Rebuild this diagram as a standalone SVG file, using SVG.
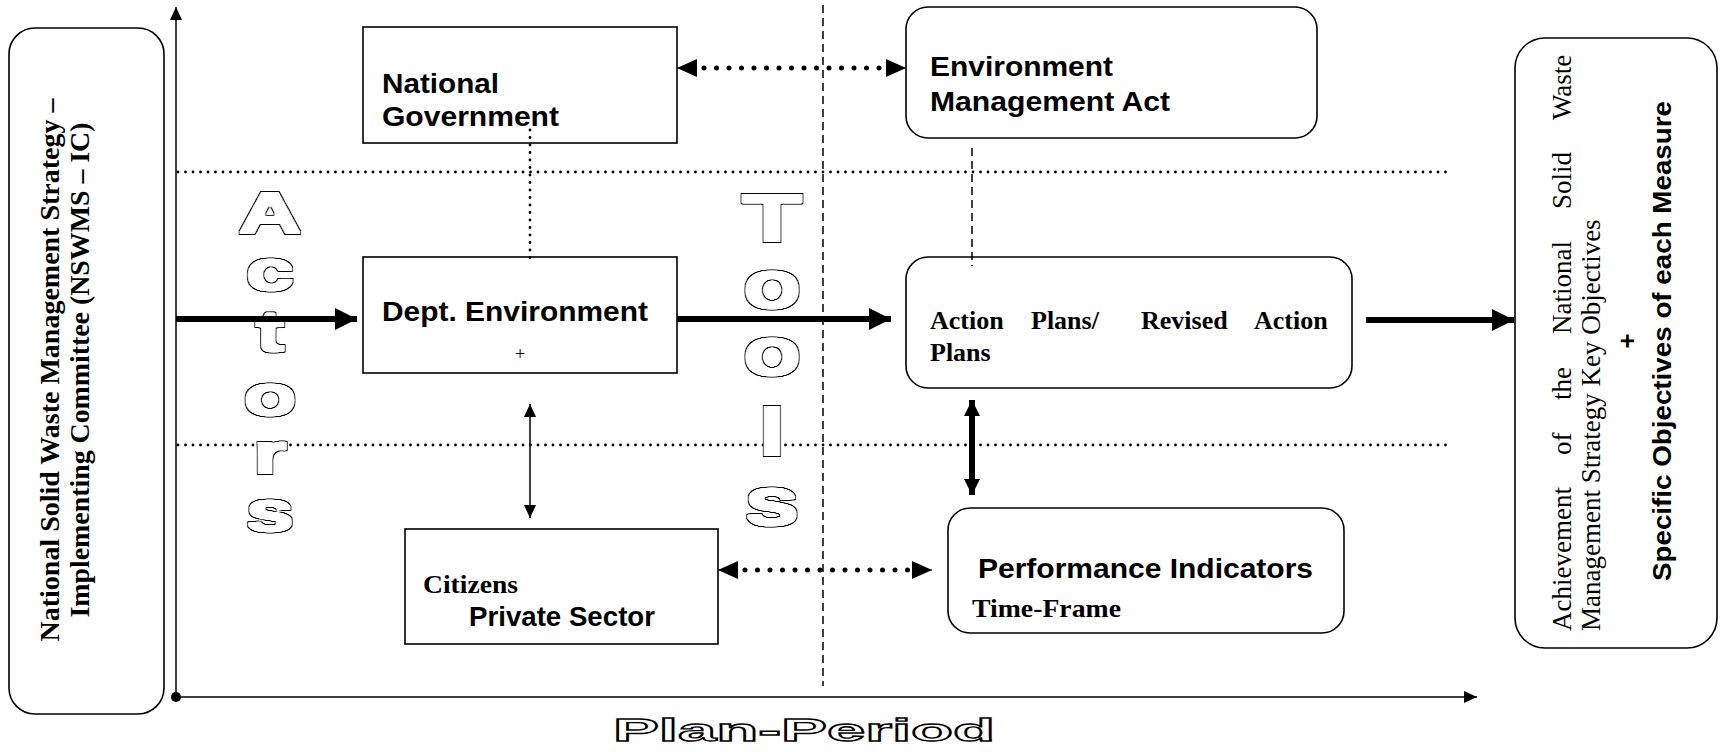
<svg xmlns="http://www.w3.org/2000/svg" width="1720" height="752" viewBox="0 0 1720 752">
<style>
.box{fill:#fff;stroke:#000;stroke-width:1.6}
.ar{font-family:"Liberation Sans",Arial,sans-serif;font-weight:bold;fill:#000}
.tm{font-family:"Liberation Serif","Times New Roman",serif;fill:#000}
.tb{font-family:"Liberation Serif","Times New Roman",serif;font-weight:bold;fill:#000}
.out{font-family:"Liberation Sans",Arial,sans-serif;font-weight:bold;fill:#000;text-anchor:middle;filter:url(#fat)}
.outp{font-family:"Liberation Sans",Arial,sans-serif;font-weight:bold;fill:#fff;stroke:#000;stroke-width:1.3;text-anchor:middle}
.thick{stroke:#000;stroke-width:6;fill:none}
.dots{stroke:#000;stroke-width:5;stroke-linecap:round;stroke-dasharray:0 12.5;fill:none}
.sdots{stroke:#000;stroke-width:2.8;stroke-linecap:round;stroke-dasharray:0 7.5;fill:none}
.dash{stroke:#000;stroke-width:1.5;stroke-dasharray:8 5;fill:none}
.thin{stroke:#000;stroke-width:1.5;fill:none}
</style>
<defs>
<filter id="fat" x="-30%" y="-30%" width="160%" height="160%">
<feMorphology in="SourceAlpha" operator="dilate" radius="1.5 2.4" result="d0"/>
<feGaussianBlur in="d0" stdDeviation="0.6" result="d1"/>
<feComponentTransfer in="d1" result="d"><feFuncA type="linear" slope="2.5" intercept="-0.6"/></feComponentTransfer>
<feMorphology in="d" operator="erode" radius="0.65 1" result="e"/>
<feFlood flood-color="#000" result="blk"/>
<feComposite in="blk" in2="d" operator="in" result="ring"/>
<feFlood flood-color="#fff" result="wht"/>
<feComposite in="wht" in2="e" operator="in" result="inner"/>
<feMerge><feMergeNode in="ring"/><feMergeNode in="inner"/></feMerge>
</filter>
<marker id="bigHead" markerUnits="userSpaceOnUse" markerWidth="24" markerHeight="24" refX="22" refY="12" orient="auto-start-reverse" viewBox="0 0 24 24"><path d="M0,1 L22,12 L0,23 Z" fill="#000"/></marker>
<marker id="dotHead" markerUnits="userSpaceOnUse" markerWidth="22" markerHeight="22" refX="20" refY="11" orient="auto-start-reverse" viewBox="0 0 22 22"><path d="M0,2 L20,11 L0,20 Z" fill="#000"/></marker>
<marker id="midHead" markerUnits="userSpaceOnUse" markerWidth="18" markerHeight="18" refX="16" refY="9" orient="auto-start-reverse" viewBox="0 0 18 18"><path d="M0,1 L16,9 L0,17 Z" fill="#000"/></marker>
<marker id="smallHead" markerUnits="userSpaceOnUse" markerWidth="14" markerHeight="14" refX="13" refY="7" orient="auto-start-reverse" viewBox="0 0 14 14"><path d="M0,1 L13,7 L0,13 Z" fill="#000"/></marker>
</defs>

<!-- background guides -->
<g id="guides">
<line class="sdots" x1="178" y1="172" x2="1446" y2="172"/>
<line class="sdots" x1="178" y1="445" x2="1446" y2="445"/>
<line class="dash" x1="823" y1="5" x2="823" y2="686"/>
</g>

<!-- big outlined labels -->
<g id="actors-label">
<text class="out" font-size="58" transform="translate(270,233) scale(1.5,1)">A</text>
<text class="out" font-size="58" transform="translate(270,290) scale(1.5,1)">c</text>
<text class="out" font-size="58" transform="translate(270,351) scale(1.5,1)">t</text>
<text class="out" font-size="58" transform="translate(270,415) scale(1.5,1)">o</text>
<text class="out" font-size="58" transform="translate(270,473) scale(1.5,1)">r</text>
<text class="out" font-size="58" transform="translate(270,531) scale(1.5,1)">s</text>
</g>
<g id="tools-label">
<text class="out" font-size="66" transform="translate(772,241) scale(1.5,1)">T</text>
<text class="out" font-size="68" transform="translate(772,308) scale(1.4,1)">o</text>
<text class="out" font-size="68" transform="translate(772,375) scale(1.4,1)">o</text>
<text class="out" font-size="66" transform="translate(772,455) scale(1.5,1)">l</text>
<text class="out" font-size="68" transform="translate(772,525) scale(1.45,1)">s</text>
</g>
<g id="plan-period-label">
<text class="outp" font-size="32" transform="translate(804,741) scale(2.15,1)">Plan-Period</text>
</g>

<!-- nodes -->
<g id="nswms-ic">
<rect class="box" x="9" y="28" width="155" height="686" rx="26"/>
<text class="tb" font-size="28" text-anchor="middle" transform="translate(59,370) rotate(-90)" textLength="543" lengthAdjust="spacingAndGlyphs">National Solid Waste Management Strategy –</text>
<text class="tb" font-size="28" text-anchor="middle" transform="translate(89,370) rotate(-90)" textLength="495" lengthAdjust="spacingAndGlyphs">Implementing Committee (NSWMS – IC)</text>
</g>

<g id="national-government">
<rect class="box" x="363" y="27" width="314" height="116"/>
<text class="ar" font-size="28" x="382" y="93" textLength="117" lengthAdjust="spacingAndGlyphs">National</text>
<text class="ar" font-size="28" x="382" y="126" textLength="177" lengthAdjust="spacingAndGlyphs">Government</text>
</g>

<g id="environment-management-act">
<rect class="box" x="906" y="7" width="411" height="131" rx="22"/>
<text class="ar" font-size="28" x="930" y="76" textLength="183" lengthAdjust="spacingAndGlyphs">Environment</text>
<text class="ar" font-size="28" x="930" y="111" textLength="240" lengthAdjust="spacingAndGlyphs">Management Act</text>
</g>

<g id="dept-environment">
<rect class="box" x="363" y="257" width="314" height="116"/>
<text class="ar" font-size="28" x="382" y="321" textLength="266" lengthAdjust="spacingAndGlyphs">Dept. Environment</text>
<text class="tm" font-size="18" x="520" y="360" text-anchor="middle">+</text>
</g>

<g id="action-plans">
<rect class="box" x="906" y="257" width="446" height="131" rx="22"/>
<text class="tb" font-size="26" y="329"><tspan x="930">Action</tspan><tspan x="1031">Plans/</tspan><tspan x="1141">Revised</tspan><tspan x="1254">Action</tspan></text>
<text class="tb" font-size="26" x="930" y="361">Plans</text>
</g>

<g id="citizens-private-sector">
<rect class="box" x="405" y="529" width="313" height="115"/>
<text class="tb" font-size="26" x="423" y="593" textLength="95" lengthAdjust="spacingAndGlyphs">Citizens</text>
<text class="ar" font-size="28" x="469" y="626" textLength="186" lengthAdjust="spacingAndGlyphs">Private Sector</text>
</g>

<g id="performance-indicators">
<rect class="box" x="948" y="508" width="396" height="125" rx="22"/>
<text class="ar" font-size="28" x="978" y="578" textLength="335" lengthAdjust="spacingAndGlyphs">Performance Indicators</text>
<text class="tb" font-size="26" x="972" y="617" textLength="149" lengthAdjust="spacingAndGlyphs">Time-Frame</text>
</g>

<g id="achievement">
<rect class="box" x="1515" y="38" width="202" height="610" rx="30"/>
<text class="tm" font-size="27" transform="translate(1571,631) rotate(-90)"><tspan x="0">Achievement</tspan><tspan x="176">of</tspan><tspan x="231">the</tspan><tspan x="297">National</tspan><tspan x="422">Solid</tspan><tspan x="511">Waste</tspan></text>
<text class="tm" font-size="27" transform="translate(1600,631) rotate(-90)" x="0">Management Strategy Key Objectives</text>
<text class="ar" font-size="26" text-anchor="middle" transform="translate(1636,341) rotate(-90)">+</text>
<text class="ar" font-size="26" text-anchor="middle" transform="translate(1671,341) rotate(-90)" textLength="480" lengthAdjust="spacingAndGlyphs">Specific Objectives of each Measure</text>
</g>

<!-- connectors -->
<g id="connectors">
<!-- axes -->
<line class="thin" x1="176" y1="697" x2="176" y2="7" stroke-width="2" marker-end="url(#smallHead)"/>
<line class="thin" x1="176" y1="697" x2="1477" y2="697" stroke-width="2" marker-end="url(#smallHead)"/>
<circle cx="176" cy="697" r="5" fill="#000"/>
<!-- thick flow arrows -->
<line class="thick" x1="176" y1="319" x2="357" y2="319" marker-end="url(#bigHead)"/>
<line class="thick" x1="677" y1="319" x2="891" y2="319" marker-end="url(#bigHead)"/>
<line class="thick" x1="1366" y1="320" x2="1514" y2="320" marker-end="url(#bigHead)"/>
<!-- dotted double arrows -->
<line class="dots" x1="704" y1="68" x2="884" y2="68"/>
<line x1="690" y1="68" x2="677" y2="68" stroke="#000" stroke-width="1" marker-end="url(#dotHead)"/>
<line x1="893" y1="68" x2="906" y2="68" stroke="#000" stroke-width="1" marker-end="url(#dotHead)"/>
<line class="dots" x1="745" y1="570" x2="912" y2="570"/>
<line x1="731" y1="570" x2="718" y2="570" stroke="#000" stroke-width="1" marker-end="url(#dotHead)"/>
<line x1="919" y1="570" x2="932" y2="570" stroke="#000" stroke-width="1" marker-end="url(#dotHead)"/>
<!-- vertical links -->
<line class="sdots" x1="530" y1="130" x2="530" y2="260" stroke-width="3" stroke-dasharray="0 6"/>
<line class="dash" x1="972" y1="148" x2="972" y2="266" stroke-width="1.3"/>
<line class="thin" x1="530" y1="404" x2="530" y2="518" marker-start="url(#smallHead)" marker-end="url(#smallHead)"/>
<line class="thick" x1="972" y1="400" x2="972" y2="495" stroke-width="4.5" marker-start="url(#midHead)" marker-end="url(#midHead)"/>
</g>
</svg>
